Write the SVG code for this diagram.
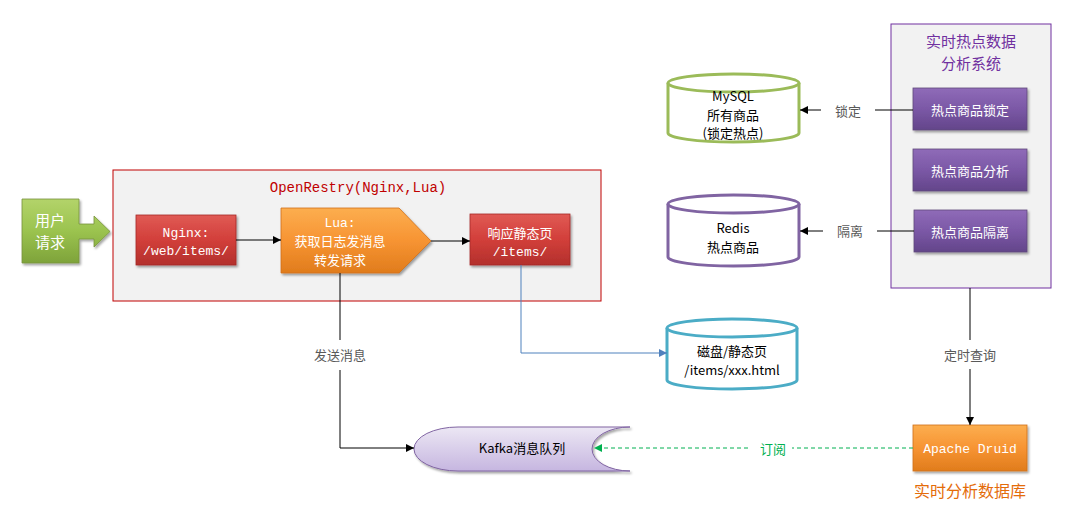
<svg xmlns="http://www.w3.org/2000/svg" width="1067" height="516" viewBox="0 0 1067 516">
<defs>
<linearGradient id="gRed" x1="0" y1="0" x2="0" y2="1"><stop offset="0" stop-color="#e05a55"/><stop offset="0.5" stop-color="#d23f3a"/><stop offset="1" stop-color="#b3302c"/></linearGradient>
<linearGradient id="gOrange" x1="0" y1="0" x2="0" y2="1"><stop offset="0" stop-color="#fcae4f"/><stop offset="0.5" stop-color="#f79433"/><stop offset="1" stop-color="#e07c1c"/></linearGradient>
<linearGradient id="gPurple" x1="0" y1="0" x2="0" y2="1"><stop offset="0" stop-color="#8f6bb8"/><stop offset="0.5" stop-color="#7b58a6"/><stop offset="1" stop-color="#63458a"/></linearGradient>
<linearGradient id="gGreen" x1="0" y1="0" x2="0" y2="1"><stop offset="0" stop-color="#b3d36a"/><stop offset="0.5" stop-color="#9bc34f"/><stop offset="1" stop-color="#7ea33a"/></linearGradient>
<linearGradient id="gKafka" x1="0" y1="0" x2="0" y2="1"><stop offset="0" stop-color="#ece7f4"/><stop offset="1" stop-color="#c6b6e0"/></linearGradient>
<marker id="aBlack" viewBox="0 0 10 10" refX="10" refY="5" markerWidth="8" markerHeight="8" markerUnits="userSpaceOnUse" orient="auto"><path d="M0,0 L10,5 L0,10 z" fill="#000"/></marker>
<marker id="aBlue" viewBox="0 0 10 10" refX="10" refY="5" markerWidth="8" markerHeight="8" markerUnits="userSpaceOnUse" orient="auto"><path d="M0,0 L10,5 L0,10 z" fill="#4f81bd"/></marker>
<marker id="aGreen" viewBox="0 0 10 10" refX="10" refY="5" markerWidth="8" markerHeight="8" markerUnits="userSpaceOnUse" orient="auto"><path d="M0,0 L10,5 L0,10 z" fill="#00b050"/></marker>
<filter id="sh" x="-10%" y="-10%" width="130%" height="140%"><feDropShadow dx="1.5" dy="2" stdDeviation="1.2" flood-color="#000" flood-opacity="0.35"/></filter>
</defs>
<style>
.cn{font-family:"Noto Sans CJK SC","Liberation Sans",sans-serif;}
.mono{font-family:"Liberation Mono","Noto Sans CJK SC",monospace;}
.wt{fill:#fff;font-size:13px;text-anchor:middle;}
.bk{fill:#000;font-size:13px;text-anchor:middle;}
.lbl{fill:#595959;font-size:13px;text-anchor:middle;}
.conn{fill:none;stroke:#000;stroke-width:1;}
</style>

<g id="openresty-container">
<rect x="113" y="170" width="488" height="131" fill="#f2f2f2" stroke="#c00000" stroke-width="1"/>
<text x="358" y="192" class="mono" font-size="14" fill="#c00000" text-anchor="middle">OpenRestry(Nginx,Lua)</text>
</g>

<g id="hot-system-container">
<rect x="891" y="24" width="160" height="264" fill="#f2f2f2" stroke="#7030a0" stroke-width="1"/>
<text x="971" y="47" class="cn" font-size="15" fill="#7030a0" text-anchor="middle">实时热点数据</text>
<text x="971" y="69" class="cn" font-size="15" fill="#7030a0" text-anchor="middle">分析系统</text>
</g>

<g id="user-request">
<path d="M22,199 H79 V224 H94 V216 L110,231.5 L94,247 V239 H79 V263 H22 Z" fill="url(#gGreen)" stroke="#76923c" stroke-width="0.8" filter="url(#sh)"/>
<text x="50" y="226" class="cn" font-size="15" fill="#fff" text-anchor="middle">用户</text>
<text x="50" y="248" class="cn" font-size="15" fill="#fff" text-anchor="middle">请求</text>
</g>

<g id="nginx">
<rect x="136" y="215" width="100" height="50" fill="url(#gRed)" stroke="#a52a26" stroke-width="0.8" filter="url(#sh)"/>
<text x="186" y="237" class="mono wt">Nginx:</text>
<text x="186" y="255" class="mono wt">/web/items/</text>
</g>

<g id="lua">
<path d="M281,208 H399 L431,241 L399,273 H281 Z" fill="url(#gOrange)" stroke="#d0701a" stroke-width="0.8" filter="url(#sh)"/>
<text x="340" y="227" class="mono wt">Lua:</text>
<text x="340" y="246" class="cn wt" font-size="14">获取日志发消息</text>
<text x="340" y="265" class="cn wt" font-size="14">转发请求</text>
</g>

<g id="static-page">
<rect x="470" y="214" width="100" height="51" fill="url(#gRed)" stroke="#a52a26" stroke-width="0.8" filter="url(#sh)"/>
<text x="520" y="238" class="cn wt" font-size="14">响应静态页</text>
<text x="520" y="256" class="mono wt">/items/</text>
</g>

<g id="mysql">
<path d="M668,83 V133 A65.5,9 0 0 0 799,133 V83" fill="#fff" stroke="#9bbb59" stroke-width="3"/>
<ellipse cx="733.5" cy="83" rx="65.5" ry="9" fill="#fff" stroke="#9bbb59" stroke-width="3"/>
<text x="733" y="101" class="cn bk">MySQL</text>
<text x="733" y="120" class="cn bk">所有商品</text>
<text x="733" y="138" class="cn bk">(锁定热点)</text>
</g>

<g id="redis">
<path d="M668,204 V257 A65.5,9 0 0 0 799,257 V204" fill="#fff" stroke="#8064a2" stroke-width="3"/>
<ellipse cx="733.5" cy="204" rx="65.5" ry="9" fill="#fff" stroke="#8064a2" stroke-width="3"/>
<text x="733" y="233" class="cn bk">Redis</text>
<text x="733" y="252" class="cn bk">热点商品</text>
</g>

<g id="disk">
<path d="M667,328 V380 A65,9 0 0 0 797,380 V328" fill="#fff" stroke="#4bacc6" stroke-width="3"/>
<ellipse cx="732" cy="328" rx="65" ry="9" fill="#fff" stroke="#4bacc6" stroke-width="3"/>
<text x="732" y="356" class="cn bk">磁盘/静态页</text>
<text x="732" y="375" class="cn bk">/items/xxx.html</text>
</g>

<g id="kafka">
<path d="M630,427 H458 A44,22 0 0 0 458,471 H630 A38,22 0 0 1 630,427 Z" fill="url(#gKafka)" stroke="#8064a2" stroke-width="1" filter="url(#sh)"/>
<text x="522" y="453" class="cn bk">Kafka消息队列</text>
</g>

<g id="hot-lock">
<rect x="913" y="88" width="114" height="42" fill="url(#gPurple)" stroke="#5f497a" stroke-width="0.8" filter="url(#sh)"/>
<text x="970" y="115" class="cn wt" font-size="14">热点商品锁定</text>
</g>
<g id="hot-analyze">
<rect x="913" y="149" width="114" height="42" fill="url(#gPurple)" stroke="#5f497a" stroke-width="0.8" filter="url(#sh)"/>
<text x="970" y="176" class="cn wt" font-size="14">热点商品分析</text>
</g>
<g id="hot-isolate">
<rect x="914" y="210" width="113" height="42" fill="url(#gPurple)" stroke="#5f497a" stroke-width="0.8" filter="url(#sh)"/>
<text x="970" y="237" class="cn wt" font-size="14">热点商品隔离</text>
</g>

<g id="druid">
<rect x="913" y="425" width="114" height="46" fill="url(#gOrange)" stroke="#d0701a" stroke-width="0.8" filter="url(#sh)"/>
<text x="970" y="453" class="mono wt">Apache Druid</text>
<text x="970" y="497" class="cn" font-size="16" fill="#e46c0a" text-anchor="middle">实时分析数据库</text>
</g>

<g id="connectors">
<line x1="236" y1="240" x2="281" y2="240" class="conn" marker-end="url(#aBlack)"/>
<line x1="431" y1="241" x2="470" y2="241" class="conn" marker-end="url(#aBlack)"/>
<polyline points="340,273 340,340" class="conn"/>
<polyline points="340,370 340,448 414,448" class="conn" marker-end="url(#aBlack)"/>
<text x="340" y="360" class="cn lbl">发送消息</text>
<polyline points="521,265 521,353 667,353" fill="none" stroke="#4f81bd" stroke-width="1" marker-end="url(#aBlue)"/>
<line x1="913" y1="110" x2="875" y2="110" class="conn"/>
<line x1="821" y1="110" x2="800" y2="110" class="conn" marker-end="url(#aBlack)"/>
<text x="848" y="116" class="cn lbl">锁定</text>
<line x1="914" y1="231" x2="877" y2="231" class="conn"/>
<line x1="823" y1="231" x2="800" y2="231" class="conn" marker-end="url(#aBlack)"/>
<text x="850" y="236" class="cn lbl">隔离</text>
<line x1="970" y1="288" x2="970" y2="340" class="conn"/>
<line x1="970" y1="369" x2="970" y2="425" class="conn" marker-end="url(#aBlack)"/>
<text x="970" y="360" class="cn lbl">定时查询</text>
<line x1="913" y1="448" x2="792" y2="448" fill="none" stroke="#00b050" stroke-width="1" stroke-dasharray="4,3"/>
<line x1="748" y1="448" x2="594" y2="448" fill="none" stroke="#00b050" stroke-width="1" stroke-dasharray="4,3" marker-end="url(#aGreen)"/>
<text x="773" y="454" class="cn" font-size="13" fill="#00b050" text-anchor="middle">订阅</text>
</g>
</svg>
